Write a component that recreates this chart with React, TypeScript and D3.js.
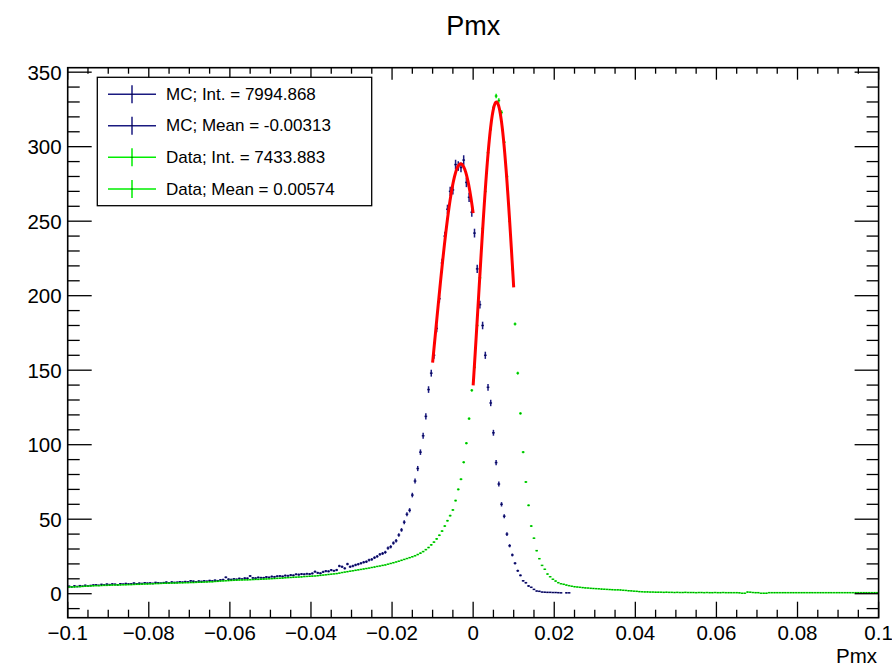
import React from "react";
import * as d3 from "d3";

// ---------- data ----------
const X_DOMAIN = [-0.1, 0.1];
const Y_DOMAIN = [-16.1, 353];

// MC histogram, 300 bins over [-0.1, 0.1]
const MC_COUNTS = [
  5.0, 4.6, 5.2, 4.8, 5.4, 5.0, 5.6, 5.2, 5.5, 5.8,
  6.0, 5.6, 6.2, 5.9, 6.4, 6.1, 6.5, 6.3, 6.0, 6.7,
  6.4, 6.8, 6.5, 6.6, 7.1, 6.7, 7.0, 6.8, 7.3, 7.0,
  7.2, 6.9, 7.5, 7.3, 7.1, 7.4, 7.7, 7.3, 7.8, 7.5,
  7.6, 8.0, 7.7, 8.1, 7.9, 8.6, 8.3, 8.0, 8.4, 8.2,
  8.6, 8.3, 8.8, 8.5, 9.0, 8.7, 9.2, 9.4, 11.0, 9.7,
  9.5, 9.9, 9.6, 10.2, 9.8, 10.4, 10.3, 11.9, 10.6, 10.4,
  10.9, 10.7, 10.7, 11.2, 10.9, 11.5, 11.3, 11.7, 11.9, 11.6,
  12.2, 12.0, 12.5, 12.3, 13.0, 12.8, 13.2, 13.0, 13.4, 13.2,
  13.6, 14.8, 14.0, 13.7, 14.6, 15.2, 15.0, 15.9, 15.4, 15.9,
  18.6, 18.1, 17.0, 19.9, 18.1, 18.6, 19.3, 19.8, 20.4, 21.1,
  21.5, 22.6, 23.0, 24.2, 25.0, 26.4, 27.0, 27.8, 30.6, 31.5,
  34.0, 35.5, 39.4, 42.8, 48.0, 53.3, 56.0, 66.2, 75.6, 84.0,
  95.0, 106.0, 119.0, 137.0, 148.0, 160.0, 178.0, 198.0, 222.0, 240.0,
  258.0, 270.0, 271.0, 288.0, 287.0, 286.0, 291.0, 276.0, 266.0, 256.0,
  242.0, 218.0, 194.0, 180.0, 160.0, 138.5, 128.0, 108.0, 88.0, 73.6,
  60.0, 52.0, 40.0, 32.2, 26.0, 20.4, 15.4, 12.3, 8.7, 7.4,
  5.2, 4.3, 2.9, 1.8, 1.6, 1.1, 1.0, 0.9, 0.9, 0.8,
  0.8, 0.7, 0.6, 0, 0.6, 0.6, 0, 0, 0, 0,
  0, 0, 0, 0, 0, 0, 0, 0, 0, 0,
  0, 0, 0, 0, 0, 0, 0, 0, 0, 0,
  0, 0, 0, 0, 0, 0, 0, 0, 0, 0,
  0, 0, 0, 0, 0, 0, 0, 0, 0, 0,
  0, 0, 0, 0, 0, 0, 0, 0, 0, 0,
  0, 0, 0, 0, 0, 0, 0, 0, 0, 0,
  0, 0, 0, 0, 0, 0, 0, 0, 0, 0,
  0, 0, 0, 0, 0, 0, 0, 0, 0, 0,
  0, 0, 0, 0, 0, 0, 0, 0, 0, 0,
  0, 0, 0, 0, 0, 0, 0, 0, 0, 0,
  0, 0, 0, 0, 0, 0, 0, 0, 0, 0,
];

// Data histogram, 300 bins over [-0.1, 0.1]
const DATA_COUNTS = [
  4.4, 4.6, 4.5, 4.8, 4.7, 4.9, 5.0, 5.1, 5.2, 5.3,
  5.4, 5.4, 5.5, 5.6, 5.6, 5.7, 5.8, 5.8, 5.9, 5.9,
  6.0, 6.0, 6.1, 6.1, 6.2, 6.3, 6.3, 6.4, 6.5, 6.5,
  6.6, 6.7, 6.8, 6.8, 6.9, 7.0, 7.0, 7.1, 7.1, 7.2,
  7.2, 7.3, 7.3, 7.4, 7.4, 7.5, 7.5, 7.6, 7.7, 7.7,
  7.8, 7.9, 8.0, 8.0, 8.2, 8.3, 8.5, 8.6, 8.7, 8.8,
  8.9, 9.0, 9.1, 9.2, 9.2, 9.3, 9.3, 9.4, 9.5, 9.6,
  9.6, 9.7, 9.8, 9.9, 10.0, 10.1, 10.2, 10.3, 10.4, 10.5,
  10.7, 10.8, 10.9, 11.0, 11.1, 11.2, 11.3, 11.5, 11.6, 11.7,
  11.8, 11.9, 12.1, 12.3, 12.5, 12.7, 12.9, 13.1, 13.3, 13.5,
  13.8, 14.2, 14.5, 14.8, 15.1, 15.4, 15.7, 16.0, 16.3, 16.6,
  16.9, 17.2, 17.6, 17.9, 18.3, 18.6, 19.0, 19.3, 19.8, 20.3,
  20.8, 21.3, 21.8, 22.4, 23.0, 23.6, 24.2, 24.8, 25.5, 26.3,
  27.2, 28.3, 29.6, 31.0, 32.8, 34.6, 36.8, 39.2, 42.0, 45.4,
  49.0, 52.4, 56.2, 62.5, 70.0, 76.8, 88.2, 101.0, 117.5, 136.5,
  152, 180, 212, 245, 270, 296, 312, 326, 334, 331,
  323, 303, 280, 250, 218, 181, 148, 121, 95, 75,
  59.3, 45.4, 37.2, 28.9, 23.5, 19.0, 16.4, 13.2, 11.4, 9.7,
  8.5, 7.4, 6.7, 6.3, 5.8, 5.4, 5.0, 4.7, 4.5, 4.3,
  4.1, 3.9, 3.8, 3.6, 3.5, 3.4, 3.3, 3.1, 3.0, 2.9,
  2.8, 2.7, 2.6, 2.6, 2.5, 2.3, 2.2, 2.0, 1.9, 1.7,
  1.6, 1.4, 1.3, 1.2, 1.2, 1.1, 1.1, 1.0, 1.0, 1.0,
  0.9, 1.0, 0.9, 0.9, 0.8, 0.9, 0.8, 0.8, 0.9, 0.8,
  0.8, 0.8, 0.7, 0.8, 0.8, 0.7, 0.8, 0.7, 0.7, 0.8,
  0.7, 0.7, 0.8, 0.7, 0.7, 0.7, 0.7, 0.7, 0.6, 0.3,
  0.3, 1.1, 1.0, 0.8, 0.7, 0.7, 0.3, 0.3, 0.3, 0.7,
  0.7, 0.7, 0.7, 0.7, 0.7, 0.7, 0.7, 0.7, 0.7, 0.7,
  0.7, 0.7, 0.7, 0.7, 0.7, 0.7, 0.7, 0.7, 0.7, 0.7,
  0.7, 0.7, 0.7, 0.7, 0.7, 0.7, 0.7, 0.7, 0.7, 0.7,
  0.7, 0.7, 0.7, 0.7, 0.7, 0.7, 0.7, 0.7, 0.7, 0.7,
];

// relative size of the vertical error bars (sqrt(N)-like)
const ERROR_SCALES = [0.19, 0.08];

// Gaussian fits: [MC, Data]
const FIT_AMPLITUDES = [288.5, 330];
const FIT_MEANS = [-0.00307, 0.00574];
const FIT_SIGMAS = [0.00622, 0.00438];
const FIT_RANGES = [
  [-0.01, 0],
  [0, 0.01],
];

const X_TICKS = [-0.1, -0.08, -0.06, -0.04, -0.02, 0, 0.02, 0.04, 0.06, 0.08, 0.1];
const X_TICK_LABELS = ["\u22120.1", "\u22120.08", "\u22120.06", "\u22120.04", "\u22120.02", "0", "0.02", "0.04", "0.06", "0.08", "0.1"];
const Y_TICKS = [0, 50, 100, 150, 200, 250, 300, 350];
const Y_TICK_LABELS = ["0", "50", "100", "150", "200", "250", "300", "350"];

const LEGEND_LABELS = [
  "MC; Int. = 7994.868",
  "MC; Mean = -0.00313",
  "Data; Int. = 7433.883",
  "Data; Mean = 0.00574",
];

const TITLE = "Pmx";
const X_TITLE = "Pmx";

// ---------- styles ----------
const MC_COLOR = "#1a1a80";
const DATA_COLOR = "#00ee00";
const MARKER_COLORS = ["#000033", "#116611"];
const FIT_COLOR = "#ff0000";
const FONT = "'Liberation Sans', Arial, Helvetica, sans-serif";

const W = 892;
const H = 666;
const FRAME = { left: 67.7, right: 878.6, top: 67.7, bottom: 617.7 };

function Histogram({ counts, color, markerColor, errScale, x, y, sw }) {
  const n = counts.length;
  const bw = (X_DOMAIN[1] - X_DOMAIN[0]) / n;
  const items = [];
  counts.forEach((v, i) => {
    if (v <= 0) return;
    const lo = X_DOMAIN[0] + i * bw;
    const hi = lo + bw;
    const c = lo + bw / 2;
    const e = errScale * Math.sqrt(v);
    const yv = y(v);
    items.push(
      <g key={i}>
        <line x1={x(lo)} x2={x(hi)} y1={yv} y2={yv} stroke={color} strokeWidth={sw} />
        {e > 0.4 ? (
          <line x1={x(c)} x2={x(c)} y1={y(v - e)} y2={y(v + e)} stroke={color} strokeWidth={sw} />
        ) : null}
        <rect x={x(c) - 0.5} y={yv - 0.5} width={1} height={1} fill={markerColor} />
      </g>
    );
  });
  return <g>{items}</g>;
}

export default function App() {
  const x = d3.scaleLinear().domain(X_DOMAIN).range([FRAME.left, FRAME.right]);
  const y = d3.scaleLinear().domain(Y_DOMAIN).range([FRAME.bottom, FRAME.top]);

  const xMinor = d3.range(-20, 21).map((k) => k * 0.005);
  const yMinor = d3.range(-1, 36).map((k) => k * 10);

  const fitPaths = FIT_AMPLITUDES.map((A, k) => {
    const [lo, hi] = FIT_RANGES[k];
    const pts = d3.range(0, 101).map((j) => lo + ((hi - lo) * j) / 100);
    const line = d3
      .line()
      .x((d) => x(d))
      .y((d) => y(A * Math.exp(-((d - FIT_MEANS[k]) ** 2) / (2 * FIT_SIGMAS[k] ** 2))));
    return line(pts);
  });

  const legend = { x: 97.3, y: 77.3, w: 274.4, h: 128.4 };
  const legendColors = [MC_COLOR, MC_COLOR, DATA_COLOR, DATA_COLOR];
  const rowY = [94.3, 125.7, 157.3, 189];

  return (
    <svg
      width={W}
      height={H}
      viewBox={`0 0 ${W} ${H}`}
      style={{ position: "absolute", left: 0, top: 0, background: "#fff" }}
      fontFamily={FONT}
    >
      <rect x={0} y={0} width={W} height={H} fill="#fff" />

      {/* title */}
      <text x={(FRAME.left + FRAME.right) / 2} y={35} textAnchor="middle" fontSize={27} fill="#000">
        {TITLE}
      </text>

      {/* histograms */}
      <Histogram counts={MC_COUNTS} color={MC_COLOR} markerColor={MARKER_COLORS[0]} errScale={ERROR_SCALES[0]} x={x} y={y} sw={1.5} />
      <Histogram counts={DATA_COUNTS} color={DATA_COLOR} markerColor={MARKER_COLORS[1]} errScale={ERROR_SCALES[1]} x={x} y={y} sw={1.5} />

      {/* fits */}
      {fitPaths.map((p, k) => (
        <path key={k} d={p} fill="none" stroke={FIT_COLOR} strokeWidth={3} strokeLinejoin="round" />
      ))}

      {/* frame */}
      <rect
        x={FRAME.left}
        y={FRAME.top}
        width={FRAME.right - FRAME.left}
        height={FRAME.bottom - FRAME.top}
        fill="none"
        stroke="#000"
        strokeWidth={1.6}
      />

      {/* x ticks bottom & top */}
      {xMinor.map((v, i) => {
        const major = i % 4 === 0;
        const px = x(v);
        return (
          <g key={"xt" + i} stroke="#000" strokeWidth={1.3}>
            <line x1={px} x2={px} y1={FRAME.bottom} y2={FRAME.bottom - (major ? 16 : 8)} />
            <line x1={px} x2={px} y1={FRAME.top} y2={FRAME.top + (major ? 12 : 6)} />
          </g>
        );
      })}
      {/* y ticks left & right */}
      {yMinor.map((v, i) => {
        const major = v % 50 === 0;
        const py = y(v);
        return (
          <g key={"yt" + i} stroke="#000" strokeWidth={1.3}>
            <line x1={FRAME.left} x2={FRAME.left + (major ? 24 : 12)} y1={py} y2={py} />
            <line x1={FRAME.right} x2={FRAME.right - (major ? 24 : 12)} y1={py} y2={py} />
          </g>
        );
      })}

      {/* tick labels */}
      {X_TICKS.map((v, i) => (
        <text key={"xl" + i} x={x(v)} y={640} textAnchor="middle" fontSize={20.5} fill="#000">
          {X_TICK_LABELS[i]}
        </text>
      ))}
      {Y_TICKS.map((v, i) => (
        <text
          key={"yl" + i}
          x={61.7}
          y={y(v)}
          textAnchor="end"
          dominantBaseline="central"
          fontSize={20.5}
          fill="#000"
        >
          {Y_TICK_LABELS[i]}
        </text>
      ))}

      {/* axis title */}
      <text x={FRAME.right - 1.5} y={663} textAnchor="end" fontSize={20.5} fill="#000">
        {X_TITLE}
      </text>

      {/* legend */}
      <rect x={legend.x} y={legend.y} width={legend.w} height={legend.h} fill="#fff" stroke="#000" strokeWidth={1.3} />
      {LEGEND_LABELS.map((lab, i) => (
        <g key={"lg" + i}>
          <line x1={108} x2={156} y1={rowY[i]} y2={rowY[i]} stroke={legendColors[i]} strokeWidth={1.5} />
          <line x1={132} x2={132} y1={rowY[i] - 9} y2={rowY[i] + 9} stroke={legendColors[i]} strokeWidth={1.5} />
          <rect x={131.5} y={rowY[i] - 0.5} width={1} height={1} fill="#000" />
          <text x={166} y={rowY[i]} dominantBaseline="central" fontSize={17} fill="#000">
            {lab}
          </text>
        </g>
      ))}
    </svg>
  );
}
